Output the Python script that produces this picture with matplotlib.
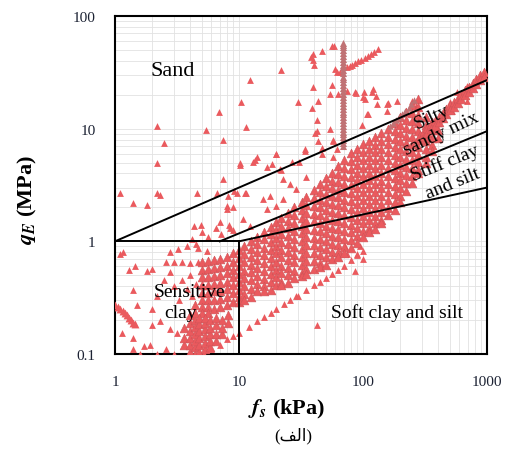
import matplotlib
matplotlib.use('Agg')
import matplotlib.pyplot as plt
import numpy as np

plt.rcParams['font.family'] = ['Liberation Serif', 'DejaVu Sans']
plt.rcParams['mathtext.fontset'] = 'stix'

# ---- values: fs (kPa) / qE (MPa) ----
# scattered single points
pts_fs = [10.4, 29.9, 6.9, 2.2, 5.4, 11.4, 2.5, 7.4, 2.2, 1.1, 1.4, 1.8, 2.3, 4.6, 7.4, 6.7, 8.1, 9.1, 8.0,
          10.2, 11.4, 13, 14, 16.8, 18.4, 20, 21.8, 27, 30.5, 34, 4.9, 4.3, 7.0, 8.5,
          12.3, 22, 39.4, 43, 56, 54, 63, 88, 102, 120, 127, 103, 130, 156, 188, 108, 42.5, 43, 57, 98, 62, 60, 65,
          39.5, 39.5, 40, 38, 47, 56, 58,
          20, 10.2, 13.5, 21.4, 41, 54, 47, 62, 11.2, 17.8, 15.6, 20, 10.8, 12.3, 16.8, 22.6, 29, 35, 22.6, 25.7,
          110, 156, 34, 57, 47, 57, 38.5, 42.5, 75, 86, 100, 118, 158, 9.6, 9, 8, 2.2,
          570, 690, 525, 440, 270, 250, 690, 820, 500,
          100, 86, 29, 62, 74, 95, 42.5, 14, 21, 71, 67, 90,
          1.16, 1.1, 1.45, 1.8, 2.0, 2.6, 3.0, 3.5, 4.0, 4.7, 4.7, 5.5, 2.8, 1.4, 1.5, 2.0, 1.14, 1.4, 2.0, 2.3,
          2.8, 3.15, 1.4, 1.7, 1.9, 1.3,
          4.2, 5.0, 5.6, 6.5, 7.2, 8.3, 9.0, 3.2, 3.8, 4.5, 2.8,
          1.6, 2.2, 2.6, 3.0,
          3.5, 3.8, 4.2, 3.3, 4.0, 4.5, 3.0, 2.5, 2.2]
pts_q = [17.1, 17.1, 14, 10.5, 9.7, 10.3, 7.4, 8.0, 5.0, 2.67, 2.2, 2.1, 2.6, 2.67, 3.55, 2.67, 2.5, 2.8, 2.05,
         4.8, 2.7, 5.1, 5.6, 4.6, 4.9, 6.0, 4.3, 5.1, 5.1, 6.4, 1.39, 1.36, 1.47, 1.3,
         26.8, 33, 23.3, 17.5, 24.3, 20.2, 20.2, 20.6, 21, 22.3, 19.4, 18.2, 16.4, 16.4, 17.5, 13.4, 9.5, 7.7, 7.7, 10.7, 32, 33.6, 32,
         45.6, 41, 37, 43, 48.5, 54, 54,
         5.9, 5.0, 5.3, 4.4, 9.2, 9.9, 6.8, 6.6, 2.7, 2.5, 2.36, 2.04, 1.57, 1.36, 1.92, 2.36, 2.9, 3.7, 3.55, 3.2,
         13.4, 14.3, 6.6, 8, 5.9, 5.6, 15.4, 12, 21.5, 21, 19, 21, 17, 2.7, 2.0, 1.92, 2.7,
         21, 17.5, 14.3, 12.1, 15.8, 17.5, 23.7, 26, 17.1,
         0.69, 0.54, 0.33, 0.74, 0.77, 0.9, 0.18, 0.37, 0.4, 0.9, 0.77, 0.77,
         0.8, 0.77, 0.6, 0.55, 0.57, 0.65, 0.66, 0.65, 0.64, 0.65, 0.88, 0.82, 0.53, 0.37, 0.27, 0.25, 0.155, 0.14, 0.18, 0.195,
         0.165, 0.155, 0.11, 0.117, 0.12, 0.56,
         1.05, 1.2, 1.1, 1.3, 1.15, 1.4, 1.25, 0.85, 0.9, 0.95, 0.8,
         0.1, 0.1, 0.11, 0.1,
         0.45, 0.38, 0.33, 0.3, 0.5, 0.42, 0.4, 0.45, 0.33]

# main dense band, one column of points per fs value
band_fs = [5, 5.6, 6.3, 7, 8, 9, 10, 11, 12.5, 14, 16, 18, 20, 22, 25, 28, 32, 35, 40, 45, 50, 56, 63,
           70, 80, 90, 100, 112, 125, 140, 160, 180, 200, 224, 250, 280, 320, 360, 400]
band_q = [
    [0.66, 0.56, 0.48, 0.41, 0.35, 0.30, 0.26, 0.23],
    [0.67, 0.57, 0.48, 0.41, 0.35, 0.30, 0.26, 0.23],
    [0.68, 0.58, 0.49, 0.42, 0.36, 0.30, 0.25],
    [0.69, 0.59, 0.50, 0.43, 0.36, 0.31, 0.26],
    [0.72, 0.61, 0.52, 0.44, 0.38, 0.32, 0.27],
    [0.78, 0.66, 0.56, 0.48, 0.41, 0.35, 0.29],
    [0.83, 0.71, 0.60, 0.51, 0.44, 0.37, 0.32, 0.29],
    [0.90, 0.77, 0.65, 0.55, 0.47, 0.40, 0.34, 0.30],
    [1.0, 0.85, 0.72, 0.62, 0.53, 0.45, 0.38, 0.32],
    [1.10, 0.94, 0.80, 0.68, 0.58, 0.49, 0.42, 0.36],
    [1.22, 1.04, 0.88, 0.75, 0.64, 0.55, 0.46, 0.40, 0.36],
    [1.35, 1.15, 0.98, 0.83, 0.71, 0.60, 0.51, 0.44, 0.37],
    [1.48, 1.26, 1.07, 0.91, 0.78, 0.66, 0.56, 0.48, 0.41],
    [1.60, 1.36, 1.16, 0.99, 0.84, 0.72, 0.61, 0.52, 0.44, 0.41],
    [1.80, 1.53, 1.30, 1.11, 0.95, 0.80, 0.68, 0.58, 0.50, 0.43],
    [2.0, 1.70, 1.45, 1.23, 1.05, 0.89, 0.76, 0.65, 0.55, 0.47],
    [2.24, 1.91, 1.62, 1.38, 1.18, 1.0, 0.85, 0.73, 0.62, 0.52, 0.49],
    [2.45, 2.09, 1.77, 1.51, 1.29, 1.10, 0.93, 0.79, 0.67, 0.57, 0.51],
    [2.85, 2.43, 2.06, 1.76, 1.50, 1.27, 1.08, 0.92, 0.78, 0.67, 0.57],
    [3.24, 2.76, 2.35, 2.0, 1.70, 1.45, 1.23, 1.05, 0.89, 0.76, 0.64, 0.59],
    [3.63, 3.09, 2.63, 2.24, 1.91, 1.62, 1.38, 1.18, 1.0, 0.85, 0.72, 0.62],
    [4.07, 3.46, 2.95, 2.51, 2.14, 1.82, 1.55, 1.32, 1.12, 0.95, 0.81, 0.69],
    [4.68, 3.98, 3.39, 2.88, 2.46, 2.09, 1.78, 1.52, 1.29, 1.10, 0.93, 0.80, 0.72],
    [5.25, 4.47, 3.80, 3.23, 2.76, 2.35, 2.0, 1.70, 1.44, 1.23, 1.04, 0.89, 0.79],
    [6.03, 5.13, 4.37, 3.71, 3.17, 2.70, 2.29, 1.95, 1.66, 1.41, 1.20, 1.03, 0.87],
    [6.6, 5.62, 4.78, 4.07, 3.47, 2.95, 2.51, 2.14, 1.82, 1.54, 1.31, 1.12, 0.96],
    [7.24, 6.16, 5.24, 4.46, 3.80, 3.24, 2.75, 2.34, 1.99, 1.69, 1.44, 1.23, 1.10],
    [7.76, 6.60, 5.62, 4.78, 4.07, 3.47, 2.95, 2.51, 2.13, 1.82, 1.54, 1.32, 1.20],
    [8.5, 7.23, 6.15, 5.24, 4.46, 3.80, 3.23, 2.75, 2.34, 1.99, 1.69, 1.44, 1.29],
    [9.1, 7.74, 6.59, 5.61, 4.78, 4.07, 3.46, 2.95, 2.50, 2.13, 1.81, 1.54, 1.45],
    [10, 8.51, 7.24, 6.16, 5.25, 4.47, 3.80, 3.24, 2.75, 2.34, 1.99, 1.70],
    [11.2, 9.53, 8.11, 6.90, 5.88, 5.0, 4.26, 3.63, 3.08, 2.62, 2.23, 1.90],
    [12.6, 10.7, 9.12, 7.76, 6.61, 5.63, 4.79, 4.08, 3.47, 2.95, 2.51, 2.24],
    [14.1, 12.0, 10.2, 8.69, 7.40, 6.30, 5.36, 4.57, 3.88, 3.30, 2.81],
    [16.2, 13.8, 11.7, 9.98, 8.50, 7.24, 6.16, 5.25, 4.46, 3.79, 3.30],
    [18.2, 15.5, 13.2, 11.2, 9.55, 8.14, 6.92, 5.89, 5.01, 4.26, 4.0],
    [12.6, 10.7, 9.12, 7.76, 6.61, 5.63, 5.0],
    [11.5, 9.8, 8.3, 7.1, 6.3],
    [11.5, 9.8, 8.3],
]

# dense blob under "Sensitive clay"
blob_fs = [3.6, 4.0, 4.4, 4.8, 5.3, 5.8, 6.5, 7.3, 8.2]
blob_q = [
    [0.12, 0.14, 0.17],
    [0.105, 0.12, 0.14, 0.16, 0.19, 0.22],
    [0.10, 0.115, 0.13, 0.15, 0.175, 0.2, 0.23, 0.27],
    [0.105, 0.12, 0.14, 0.16, 0.185, 0.21],
    [0.11, 0.125, 0.145, 0.165, 0.19, 0.21],
    [0.115, 0.13, 0.15, 0.17, 0.2],
    [0.13, 0.15, 0.18, 0.21],
    [0.15, 0.17, 0.2],
    [0.19, 0.22],
]

# lowest straight streak
low_fs = [5.2, 6, 7, 8, 9, 10, 12, 14, 16, 18, 20, 23, 26, 30, 35, 40, 45, 50, 56, 63, 70, 80, 90, 100]
low_q = [0.10, 0.11, 0.12, 0.135, 0.145, 0.155, 0.175, 0.195, 0.215, 0.23, 0.25, 0.28, 0.30, 0.33,
         0.37, 0.41, 0.44, 0.47, 0.51, 0.56, 0.6, 0.68, 0.75, 0.82]

# tail towards fs = 1000 (two rows)
tail_fs = [290, 310, 330, 355, 380, 410, 440, 470, 505, 540, 580, 620, 665, 715, 765, 820, 880, 940]
tail_q = [8.8, 9.47, 10.1, 11.0, 11.8, 12.8, 13.9, 14.9, 16.2, 17.4, 18.8, 20.2, 21.9, 23.6, 25.6, 27.5, 29.8, 31.9]
tail2_q = [8.0, 8.5, 9.1, 9.9, 10.6, 11.5, 12.5, 13.4, 14.6, 15.7, 16.9, 18.2, 19.7, 21.2, 23, 24.8, 26.8, 28.7]

# streak near the top
diag_fs = [74, 78, 81, 86, 91, 97, 103, 109, 116, 123, 131]
diag_q = [35, 36, 37, 38, 39.5, 41, 42.5, 44, 46, 48, 50.5]

# darker streaks
dark_fs = [165, 175, 185, 196, 208, 220, 233, 246, 260]
dark_q = [10.5, 11.2, 11.9, 12.6, 13.4, 14.3, 15.3, 16.5, 18]
rod_q = [58, 55, 53, 50, 47, 44, 41.5, 39, 37, 35, 33, 31, 29, 27.5, 26, 24.5, 23, 21.5, 20.3, 19, 18, 17, 16,
         15, 14.2, 13.4, 12.6, 11.9, 11.2, 10.6, 10, 9.4, 8.9, 8.4, 7.9, 7.4, 7]
rod_fs = 69
left_fs = [1.0, 1.05, 1.1, 1.15, 1.2, 1.25, 1.3, 1.35, 1.4, 1.45]
left_q = [0.27, 0.26, 0.25, 0.24, 0.23, 0.22, 0.21, 0.2, 0.19, 0.185]

# zone boundaries
bounds = [
    ([1, 1000], [1, 27]),
    ([7, 1000], [1, 9.5]),
    ([10, 1000], [1, 3]),
    ([1, 10], [1, 1]),
    ([10, 10], [1, 0.1]),
]

red = '#ea5a5e'
edge = '#cf5458'
dark = '#c07274'


def columns(fs, q):
    """flatten the column lists into x / y arrays"""
    x = np.concatenate([[f] * len(c) for f, c in zip(fs, q)])
    y = np.concatenate(q)
    return x, y


fig = plt.figure(figsize=(5.07, 4.52), dpi=100)
ax = fig.add_axes([0.2268, 0.2146, 0.7337, 0.7478])

kw = dict(marker='^', s=24, linewidths=0, zorder=3)
big = dict(marker='^', s=40, linewidths=0.4, edgecolors=edge, zorder=3)
ax.scatter(pts_fs, pts_q, color=red, **kw)
bx, by = columns(band_fs, band_q)
ax.scatter(bx, by, c=red, **big)
bx, by = columns(blob_fs, blob_q)
ax.scatter(bx, by, c=red, **big)
ax.scatter(low_fs, low_q, color=red, **kw)
ax.scatter(tail_fs, tail_q, c=red, **big)
ax.scatter(tail_fs, tail2_q, c=red, **big)
ax.scatter(diag_fs, diag_q, color=red, **kw)
ax.scatter(dark_fs, dark_q, color=dark, marker='^', s=22, linewidths=0, zorder=4)
ax.scatter([rod_fs] * len(rod_q), rod_q, color=dark, marker='^', s=26, linewidths=0, zorder=4)
ax.scatter(left_fs, left_q, color=red, marker='^', s=32, linewidths=0, zorder=3)

for xs, ys in bounds:
    ax.plot(xs, ys, color='black', lw=1.4, zorder=5)

ax.set_xscale('log')
ax.set_yscale('log')
ax.set_xlim(1, 1000)
ax.set_ylim(0.1, 100)
ax.grid(True, which='both', color='#e2e2e2', lw=0.6)
ax.set_axisbelow(True)
for s in ax.spines.values():
    s.set_linewidth(1.5)

ax.set_xticks([1, 10, 100, 1000])
ax.set_xticklabels(['1', '10', '100', '1000'])
ax.set_yticks([0.1, 1, 10, 100])
ax.set_yticklabels(['0.1', '1', '10', '100'])
ax.tick_params(which='minor', length=0)
ax.tick_params(which='major', length=0, labelsize=11, labelcolor='#1c2233')
ax.tick_params(axis='x', pad=15)
ax.tick_params(axis='y', pad=14)

ax.set_xlabel(r'$\mathbfit{f}_{\mathbfit{s}}$ (kPa)', fontsize=16, fontweight='bold')
ax.set_ylabel(r'$\mathbfit{q}_{\mathbfit{E}}$ (MPa)', fontsize=16, fontweight='bold')
ax.xaxis.set_label_coords(0.462, -0.128)
ax.yaxis.set_label_coords(-0.205, 0.459)

# zone names
tk = dict(fontsize=14, zorder=6, ha='center', va='center')
ax.text(2.9, 33, 'Sand', fontsize=16, zorder=6, ha='center', va='center')
ax.text(360, 12.9, 'Silty', rotation=25, **tk)
ax.text(425, 9.2, 'sandy mix', rotation=25, **tk)
ax.text(458, 5.0, 'Stiff clay', rotation=22, **tk)
ax.text(532, 3.3, 'and silt', rotation=22, **tk)
ax.text(4.0, 0.36, 'Sensitive', **tk)
ax.text(3.4, 0.234, 'clay', **tk)
ax.text(188, 0.234, 'Soft clay and silt', **tk)

fig.text(0.578, 0.035, '(\ufed2\ufedf\ufe8d)', ha='center', va='center', fontsize=12,
         family=['Liberation Serif', 'DejaVu Sans'])

fig.savefig('out.png', dpi=100)
